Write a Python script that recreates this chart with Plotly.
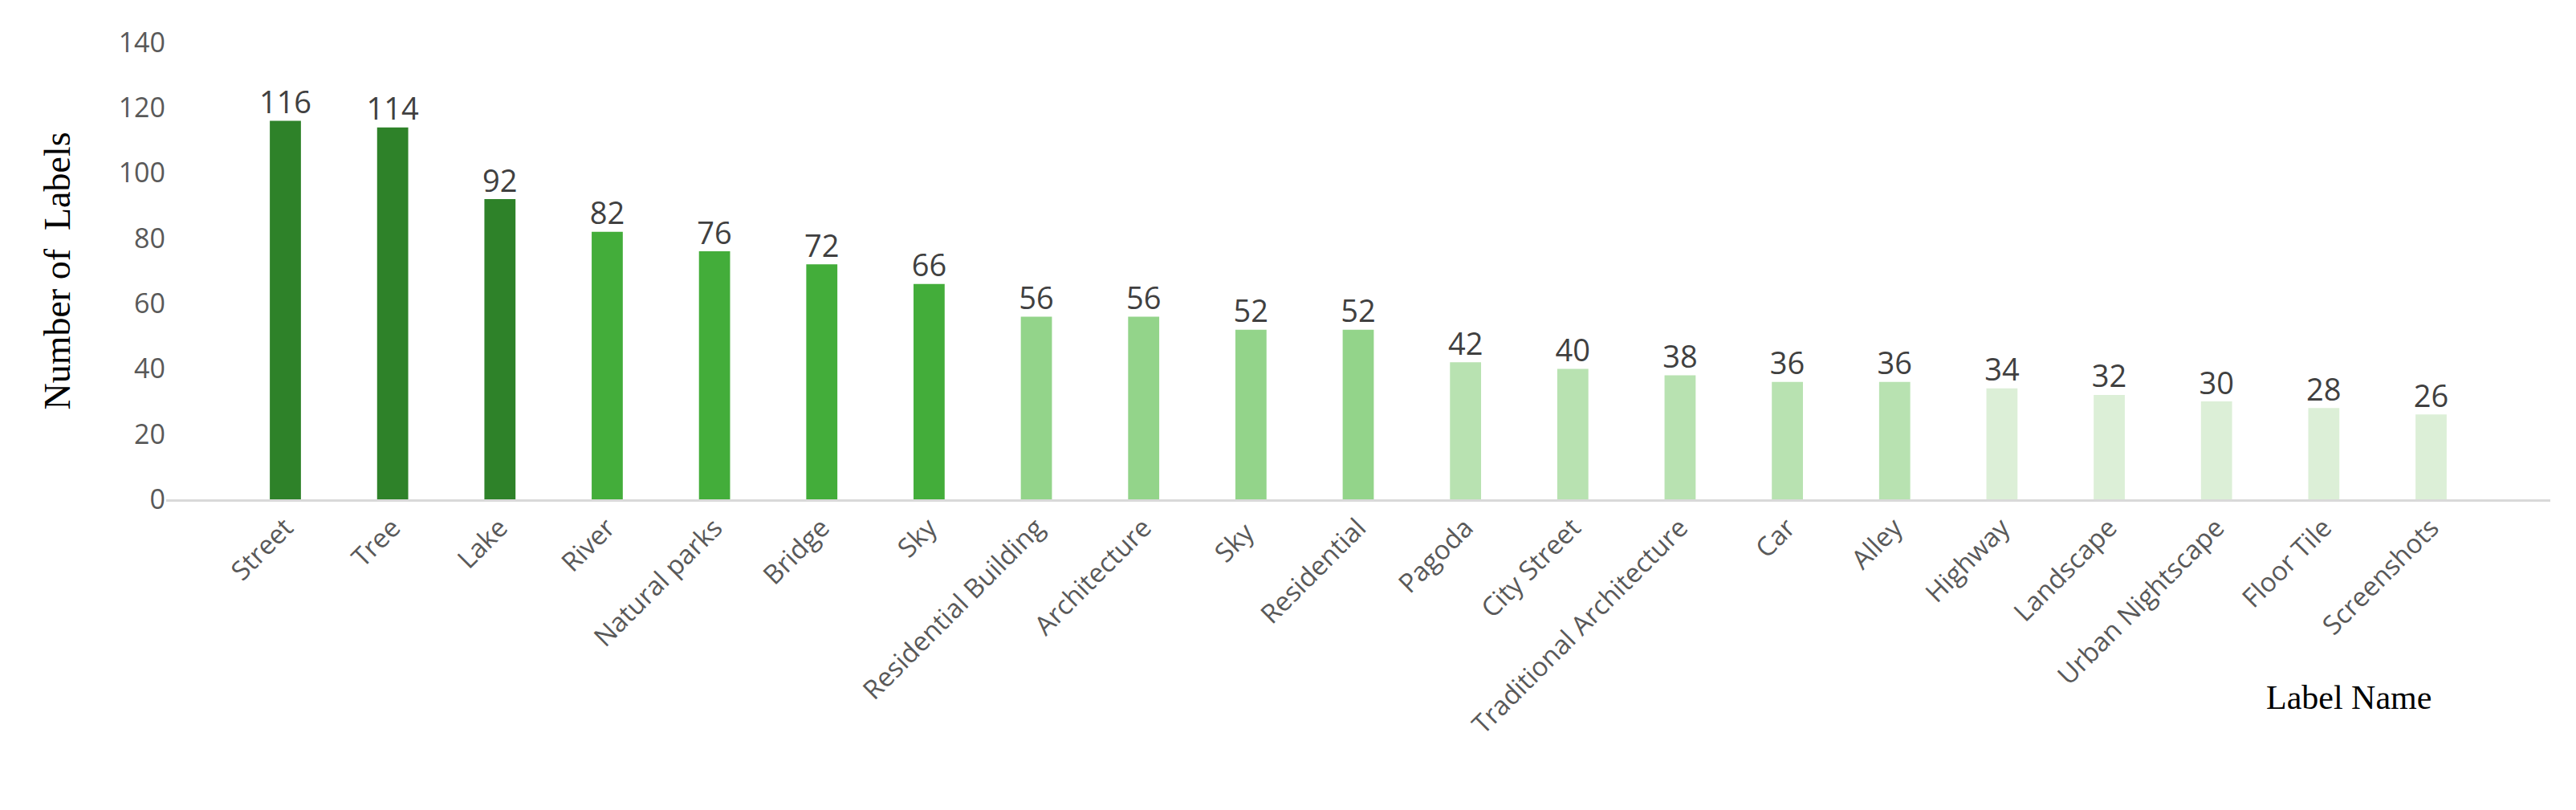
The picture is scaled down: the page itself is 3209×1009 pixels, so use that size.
import plotly.graph_objects as go

categories = ["Street", "Tree", "Lake", "River", "Natural parks", "Bridge", "Sky",
              "Residential Building", "Architecture", "Sky ", "Residential", "Pagoda",
              "City Street", "Traditional Architecture", "Car", "Alley", "Highway",
              "Landscape", "Urban Nightscape", "Floor Tile", "Screenshots"]
values = [116, 114, 92, 82, 76, 72, 66, 56, 56, 52, 52, 42, 40, 38, 36, 36, 34, 32, 30, 28, 26]
colors = (["#2E8229"] * 3 + ["#43AD3A"] * 4 + ["#93D48A"] * 4 +
          ["#B8E2B1"] * 5 + ["#DCEFD7"] * 5)

fig = go.Figure()
fig.add_trace(go.Bar(x=categories, y=values, marker_color=colors, marker_line_width=0,
                     hoverinfo="skip"))
fig.add_trace(go.Scatter(
    x=categories, y=values, mode="text", text=[str(v) for v in values],
    textposition="top center", cliponaxis=False,
    textfont=dict(family="Open Sans", size=38, color="#404040"),
))
fig.update_layout(
    width=3209, height=1009, plot_bgcolor="white", paper_bgcolor="white",
    margin=dict(l=199, r=40, t=45, b=395), bargap=0.71, showlegend=False,
    font=dict(family="Open Sans", color="#595959"),
)
fig.update_xaxes(tickangle=-45, tickfont=dict(size=33, color="#595959"),
                 showline=True, linecolor="#D9D9D9", linewidth=3, ticks="",
                 showgrid=False)
fig.update_yaxes(range=[0, 140], dtick=20, tickfont=dict(size=34, color="#595959"),
                 showgrid=False, zeroline=False, showline=False,
                 title=dict(text="Number of  Labels",
                            font=dict(family="Liberation Serif", size=46, color="black"),
                            standoff=45))
fig.add_annotation(text="Label Name", xref="paper", yref="paper", x=0.951, y=-0.478,
                   showarrow=False,
                   font=dict(family="Liberation Serif", size=42, color="black"))
fig.write_html("out.html")
